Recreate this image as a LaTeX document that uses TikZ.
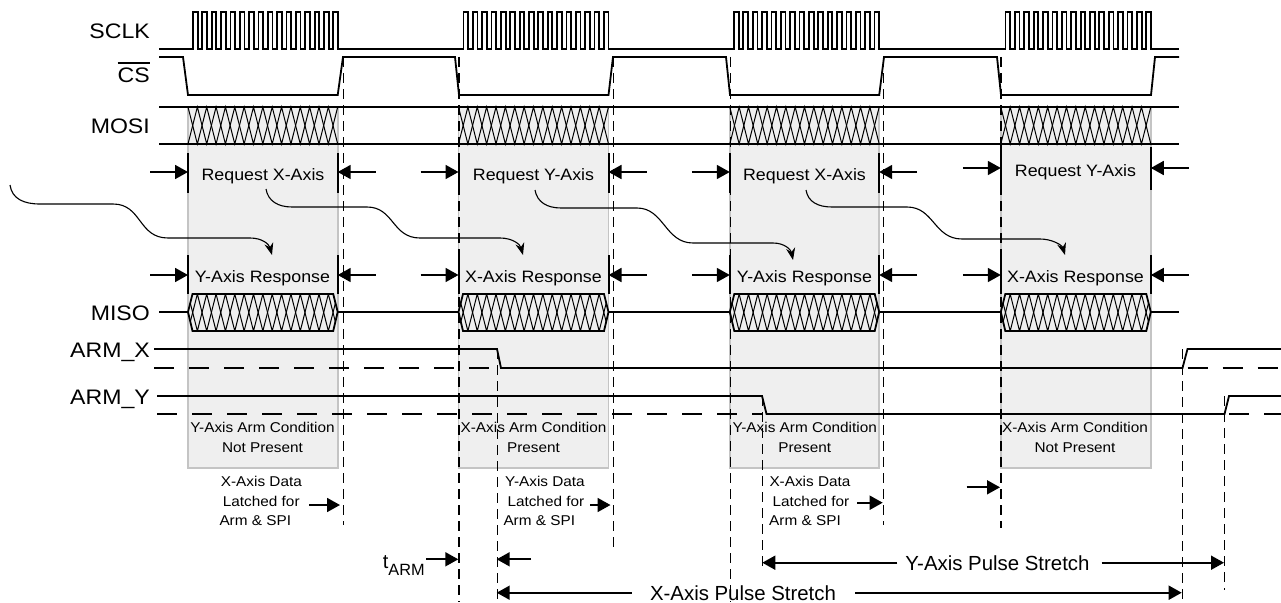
\documentclass[tikz,border=0pt]{standalone}
\usepackage{fontspec}
\setmainfont{Liberation Sans}
\newfontfamily\labfont[FakeStretch=1.1]{Liberation Sans}
\newfontfamily\boxfont[FakeStretch=1.08]{Liberation Sans}
\usetikzlibrary{arrows.meta}
\definecolor{boxfill}{HTML}{EFEFEF}
\definecolor{boxline}{HTML}{C4C4C4}
\tikzset{
 sig/.style={line width=1.8pt},
 hatchln/.style={line width=1pt},
 graybox/.style={draw=boxline, fill=boxfill, line width=1.6pt},
 lowdash/.style={line width=1.8pt, dash pattern=on 20pt off 15pt},
 vthin/.style={line width=1pt, dash pattern=on 10pt off 6pt},
 vthick/.style={line width=2pt, dash pattern=on 10pt off 6pt},
 barln/.style={line width=2pt},
 harrow/.style={line width=1.8pt, -{Triangle[length=13pt,width=14pt]}},
 curvy/.style={line width=1.1pt, -{Stealth[length=12pt,width=9pt]}},
 lab/.style={font=\labfont\fontsize{21}{24}\selectfont, inner sep=0pt, anchor=base east},
 rq/.style={font=\boxfont\fontsize{16.5}{20}\selectfont, inner sep=0pt, anchor=base},
 sm/.style={font=\boxfont\fontsize{14.2}{17}\selectfont, inner sep=0pt},
 pl/.style={font=\fontsize{20.4}{24}\selectfont, inner sep=0pt, anchor=base},
}
\begin{document}
\begin{tikzpicture}[x=1pt,y=-1pt]
\useasboundingbox (0,0) rectangle (1281,602);
% gray boxes
\foreach \l/\r in {188/337.7,458.5/608.5,729.8/879.2,1000.8/1150.8}
  \draw[graybox] (\l,107) rectangle (\r,468);
% vertical dashed markers
\draw[vthin] (343,57) -- (343,525);
\draw[vthick] (459,57) -- (459,602);
\draw[vthin] (497,349) -- (497,602);
\draw[vthin] (613,57) -- (613,547);
\draw[vthin] (730,57) -- (730,602);
\draw[vthin] (762.3,396) -- (762.3,570);
\draw[vthin] (883.5,57) -- (883.5,525);
\draw[vthick] (1001,57) -- (1001,528);
\draw[vthin] (1182.5,349) -- (1182.5,602);
\draw[vthin] (1224.5,396) -- (1224.5,590);
% SCLK
\draw[sig] (159,49)
  \foreach \b/\e in {193/338,463.5/608.5,734/879.2,1005.5/1151}{
     -- (\b,49)
     \foreach \k in {0,...,15}{
        -- ({\b+\k*(\e-\b)/15.5},12) -- ({\b+(\k+0.5)*(\e-\b)/15.5},12)
        -- ({\b+(\k+0.5)*(\e-\b)/15.5},49) -- ({\b+(\k+1)*(\e-\b)/15.5},49)
     }
  } -- (1179,49);
% CS
\draw[sig] (159,57) -- (183,57) -- (188,95) -- (337.7,95) -- (343,57) -- (455,57) -- (459,95) -- (608.5,95) -- (613,57) -- (726,57) -- (730,95) -- (879.2,95) -- (884,57) -- (997,57) -- (1001,95) -- (1151,95) -- (1155,57) -- (1179,57);
% MOSI
\foreach \l/\r in {188/337.7,458.5/608.5,729.8/879.2,1000.8/1150.8}{
  \pgfmathsetmacro\w{(\r-\l)/16}
  \draw[hatchln] (\l,107) \foreach \k in {0,...,7}{ -- ({\l+(2*\k+1)*\w},144) -- ({\l+(2*\k+2)*\w},107) };
  \draw[hatchln] (\l,144) \foreach \k in {0,...,7}{ -- ({\l+(2*\k+1)*\w},107) -- ({\l+(2*\k+2)*\w},144) };
}
\draw[sig] (159,107) -- (1179,107);
\draw[sig] (159,144) -- (1179,144);
% MISO
\draw[sig] (159,312) -- (188,312);
\draw[sig] (337.7,312) -- (458.5,312);
\draw[sig] (608.5,312) -- (729.8,312);
\draw[sig] (879.2,312) -- (1000.8,312);
\draw[sig] (1150.8,312) -- (1179,312);
\foreach \l/\r in {188/337.7,458.5/608.5,729.8/879.2,1000.8/1150.8}{
  \pgfmathsetmacro\w{(\r-\l)/16}
  \begin{scope}
    \clip (\l,312) -- ({\l+4.5},294) -- ({\r-4.5},294) -- (\r,312) -- ({\r-4.5},331) -- ({\l+4.5},331) -- cycle;
    \draw[hatchln] (\l,294) \foreach \k in {0,...,7}{ -- ({\l+(2*\k+1)*\w},331) -- ({\l+(2*\k+2)*\w},294) };
    \draw[hatchln] (\l,331) \foreach \k in {0,...,7}{ -- ({\l+(2*\k+1)*\w},294) -- ({\l+(2*\k+2)*\w},331) };
  \end{scope}
  \draw[sig] (\l,312) -- ({\l+4.5},294) -- ({\r-4.5},294) -- (\r,312) -- ({\r-4.5},331) -- ({\l+4.5},331) -- cycle;
}
% ARM_X
\draw[lowdash] (154,368) -- (497,368);
\draw[lowdash] (1187.5,368) -- (1281,368);
\draw[sig] (154,349) -- (497,349) -- (501,368) -- (1182.5,368) -- (1187.5,349) -- (1281,349);
% ARM_Y
\draw[lowdash] (157,414) -- (762,414);
\draw[lowdash] (1229,414) -- (1281,414);
\draw[sig] (157,396) -- (762,396) -- (766.5,414) -- (1224.5,414) -- (1229,396) -- (1281,396);
% signal labels
\node[lab] (lsclk) at (150,39) {SCLK};
\node[lab] (lcs) at (150,82.7) {CS};
\draw[line width=1.5pt] ([yshift=5pt]lcs.north west) -- ([yshift=5pt]lcs.north east);
\node[lab] (lmosi) at (150,133.3) {MOSI};
\node[lab] (lmiso) at (150,320.7) {MISO};
\node[lab] (larmx) at (150,357.3) {ARM\_X};
\node[lab] (larmy) at (150,404) {ARM\_Y};
% request bars and arrows
\foreach \l/\r/\t/\b/\a [count=\i] in {188/337.7/153/193/172, 458.5/608.5/153/193/172, 729.8/879.2/153/193/172, 1000.8/1150.8/147/190/168}{
  \draw[barln] (\l,\t) -- (\l,\b);
  \draw[barln] (\r,\t) -- (\r,\b);
  \coordinate (rqL\i) at (\l,\a);
  \coordinate (rqR\i) at (\r,\a);
  \draw[harrow] ([xshift=-38pt]rqL\i) -- (rqL\i);
  \draw[harrow] ([xshift=38pt]rqR\i) -- (rqR\i);
}
% response bars and arrows
\foreach \l/\r [count=\i] in {188/337.7,458.5/608.5,729.8/879.2,1000.8/1150.8}{
  \draw[barln] (\l,255) -- (\l,294);
  \draw[barln] (\r,255) -- (\r,294);
  \coordinate (rsL\i) at (\l,275);
  \coordinate (rsR\i) at (\r,275);
  \draw[harrow] ([xshift=-38pt]rsL\i) -- (rsL\i);
  \draw[harrow] ([xshift=38pt]rsR\i) -- (rsR\i);
}
\node[rq] (rq1) at (263,180) {Request X-Axis};
\node[rq] (rq2) at (533.5,180) {Request Y-Axis};
\node[rq] (rq3) at (804.5,180) {Request X-Axis};
\node[rq] (rq4) at (1075.5,176) {Request Y-Axis};
\node[rq] (rs1) at (262.5,282.7) {Y-Axis Response};
\node[rq] (rs2) at (533.5,282.7) {X-Axis Response};
\node[rq] (rs3) at (804.5,282.7) {Y-Axis Response};
\node[rq] (rs4) at (1075.5,282.7) {X-Axis Response};
% curvy connectors
\coordinate (cA0) at (10,185);   \coordinate (cA1) at (272,255);
\coordinate (cB0) at (266,189);  \coordinate (cB1) at (523,255);
\coordinate (cC0) at (535,190);  \coordinate (cC1) at (793,260);
\coordinate (cD0) at (806,190);  \coordinate (cD1) at (1065,255);
\draw[curvy] (cA0) .. controls (12,199) and (24,204) .. (40,204) -- (113,204) .. controls (142,204) and (138,238) .. (168,238) -- (250,238) .. controls (262,238) and (269,244) .. (cA1);
\draw[curvy] (cB0) .. controls (268,201) and (278,207) .. (292,207) -- (367,207) .. controls (394,207) and (392,238) .. (420,238) -- (500,238) .. controls (512,238) and (520,244) .. (cB1);
\draw[curvy] (cC0) .. controls (537,202) and (547,208) .. (561,208) -- (637,208) .. controls (664,208) and (665,243) .. (693,243) -- (773,243) .. controls (785,243) and (791,250) .. (cC1);
\draw[curvy] (cD0) .. controls (808,202) and (818,207) .. (832,207) -- (907,207) .. controls (934,207) and (934,239) .. (962,239) -- (1040,239) .. controls (1052,239) and (1062,245) .. (cD1);
% box texts
\node[sm,anchor=base] (ac1a) at (262.5,432.7) {Y-Axis Arm Condition};
\node[sm,anchor=base] (ac1b) at (262.5,452.7) {Not Present};
\node[sm,anchor=base] (ac2a) at (533.5,432.7) {X-Axis Arm Condition};
\node[sm,anchor=base] (ac2b) at (533.5,452.7) {Present};
\node[sm,anchor=base] (ac3a) at (804.7,432.7) {Y-Axis Arm Condition};
\node[sm,anchor=base] (ac3b) at (804.7,452.7) {Present};
\node[sm,anchor=base] (ac4a) at (1075,432.7) {X-Axis Arm Condition};
\node[sm,anchor=base] (ac4b) at (1075,452.7) {Not Present};
% latched texts
\node[sm,anchor=base west] (d1a) at (220.7,486) {X-Axis Data};
\node[sm,anchor=base west] (d1b) at (222.7,506) {Latched for};
\node[sm,anchor=base west] (d1c) at (219.3,525.5) {Arm \& SPI};
\node[sm,anchor=base west] (d2a) at (505,486) {Y-Axis Data};
\node[sm,anchor=base west] (d2b) at (507.3,506) {Latched for};
\node[sm,anchor=base west] (d2c) at (503.3,525.5) {Arm \& SPI};
\node[sm,anchor=base west] (d3a) at (769.3,486) {X-Axis Data};
\node[sm,anchor=base west] (d3b) at (772.3,506) {Latched for};
\node[sm,anchor=base west] (d3c) at (769,525.5) {Arm \& SPI};
\coordinate (la1s) at (309,505);   \coordinate (la1e) at (340,505);
\coordinate (la2s) at (590,505);   \coordinate (la2e) at (610.5,505);
\coordinate (la3s) at (857,502.7); \coordinate (la3e) at (882.7,502.7);
\coordinate (la4s) at (966.7,487.3); \coordinate (la4e) at (1000,487.3);
\draw[harrow] (la1s) -- (la1e);
\draw[harrow] (la2s) -- (la2e);
\draw[harrow] (la3s) -- (la3e);
\draw[harrow] (la4s) -- (la4e);
% t_ARM
\node[inner sep=0pt, anchor=base west] (tarm) at (382.7,568) {\fontsize{20}{24}\selectfont t\raisebox{-7pt}{\fontsize{16.3}{20}\selectfont ARM}};
\coordinate (ta0) at (426,559.3);  \coordinate (ta1) at (458.3,559.3);
\coordinate (tb0) at (531,559.3);  \coordinate (tb1) at (496.7,559.3);
\draw[harrow] (ta0) -- (ta1);
\draw[harrow] (tb0) -- (tb1);
% pulse stretch
\node[pl] (ypl) at (997.5,570) {Y-Axis Pulse Stretch};
\node[pl] (xpl) at (743,600) {X-Axis Pulse Stretch};
\coordinate (ys1) at (762.3,562);  \coordinate (ys2) at (1224,562);
\coordinate (xs1) at (496.7,593);  \coordinate (xs2) at (1181.7,593);
\draw[harrow] ([xshift=-8pt]ypl.west) -- (ypl.west -| ys1);
\draw[harrow] ([xshift=12pt]ypl.east) -- (ypl.east -| ys2);
\draw[harrow] ([xshift=-18pt]xpl.west) -- (xpl.west -| xs1);
\draw[harrow] ([xshift=19pt]xpl.east) -- (xpl.east -| xs2);
\end{tikzpicture}
\end{document}
